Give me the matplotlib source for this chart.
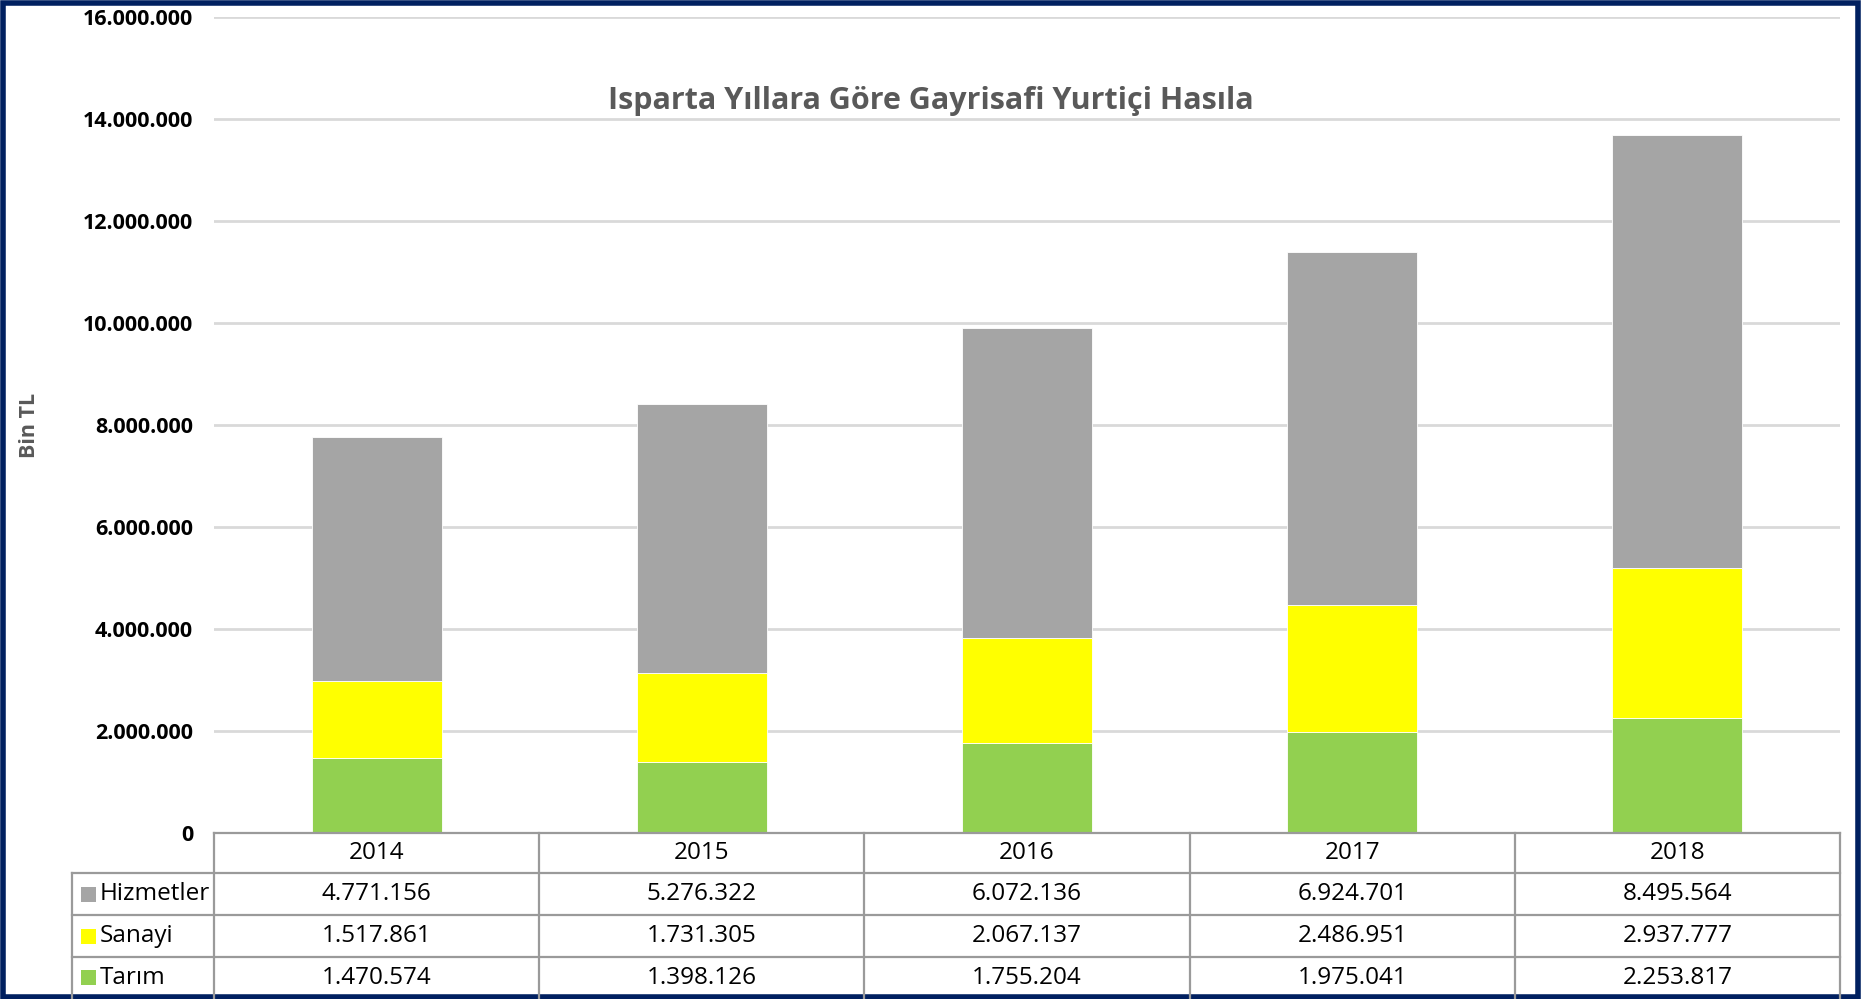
import matplotlib.pyplot as plt
from matplotlib.patches import Rectangle
from matplotlib.transforms import blended_transform_factory

plt.rcParams['font.family'] = ['Open Sans', 'DejaVu Sans']

yillar = ["2014", "2015", "2016", "2017", "2018"]
seriler = ["Hizmetler", "Sanayi", "Tarım"]
tarim = [1470574, 1398126, 1755204, 1975041, 2253817]
sanayi = [1517861, 1731305, 2067137, 2486951, 2937777]
hizmetler = [4771156, 5276322, 6072136, 6924701, 8495564]
renkler = {"Hizmetler": "#A5A5A5", "Sanayi": "#FFFF00", "Tarım": "#92D050"}
degerler = {"Hizmetler": hizmetler, "Sanayi": sanayi, "Tarım": tarim}


def tr_fmt(v):
    return f"{int(v):,}".replace(",", ".")


W, H = 1865, 999
fig = plt.figure(figsize=(W / 100, H / 100), dpi=100)
ax = fig.add_axes([214 / W, 1 - 833 / H, (1840 - 214) / W, (833 - 17) / H])

x = list(range(len(yillar)))
alt2 = [a + b for a, b in zip(tarim, sanayi)]
ax.bar(x, tarim, width=0.4, color=renkler["Tarım"], edgecolor="white", linewidth=0.6, zorder=3)
ax.bar(x, sanayi, width=0.4, bottom=tarim, color=renkler["Sanayi"], edgecolor="white", linewidth=0.6, zorder=3)
ax.bar(x, hizmetler, width=0.4, bottom=alt2, color=renkler["Hizmetler"], edgecolor="white", linewidth=0.6, zorder=3)

ax.set_xlim(-0.5, len(yillar) - 0.5)
ax.set_ylim(0, 16000000)
ax.set_yticks(range(0, 16000001, 2000000))
ax.set_yticklabels([tr_fmt(v) for v in range(0, 16000001, 2000000)], fontsize=15.5, fontweight="bold")
ax.tick_params(axis="y", length=0, pad=15)
ax.set_xticks([])
ax.grid(axis="y", color="#D9D9D9", linewidth=2, zorder=0)
for s in ax.spines.values():
    s.set_visible(False)

fig.text(30 / W, 1 - 425 / H, "Bin TL", rotation=90, fontsize=15.5, fontweight="bold",
         color="#595959", ha="center", va="center")
fig.text(931 / W, 1 - 101 / H, "Isparta Yıllara Göre Gayrisafi Yurtiçi Hasıla",
         fontsize=22, fontweight="bold", color="#595959", ha="center", va="center")

# veri tablosu
tr = blended_transform_factory(ax.transData, fig.transFigure)
lc = "#9A9A9A"
rows = [833, 873, 915, 957, 1005]
left_lbl = -0.5 - (214 - 72) / 325.2
fs = 17.5


def fy(p):
    return 1 - p / H


def hline(x0, x1, y):
    fig.add_artist(plt.Line2D([x0, x1], [fy(y), fy(y)], transform=tr, color=lc, linewidth=1.6))


def vline(xx, y0, y1):
    fig.add_artist(plt.Line2D([xx, xx], [fy(y0), fy(y1)], transform=tr, color=lc, linewidth=1.6))


hline(-0.5, len(yillar) - 0.5, rows[0])
for r in rows[1:4]:
    hline(left_lbl, len(yillar) - 0.5, r)
for i in range(len(yillar) + 1):
    vline(i - 0.5, rows[0], rows[-1])
vline(left_lbl, rows[1], rows[-1])

for i, yil in enumerate(yillar):
    fig.text(i, fy((rows[0] + rows[1]) / 2), yil, transform=tr, ha="center", va="center", fontsize=fs)

for j, ad in enumerate(seriler):
    yc = fy((rows[j + 1] + rows[j + 2]) / 2) if j < 2 else fy((rows[3] + 998) / 2)
    fig.add_artist(Rectangle((81 / W, yc - 7.5 / H), 15 / W, 15 / H, transform=fig.transFigure,
                             facecolor=renkler[ad], edgecolor="none"))
    fig.text(100 / W, yc, ad, ha="left", va="center", fontsize=fs)
    for i, v in enumerate(degerler[ad]):
        fig.text(i, yc, tr_fmt(v), transform=tr, ha="center", va="center", fontsize=fs)

# çerçeve
fig.add_artist(Rectangle((3 / W, 2.5 / H), (W - 9.5) / W, (H - 5) / H, transform=fig.transFigure,
                         fill=False, edgecolor="#002060", linewidth=4))

fig.savefig("out.png", dpi=100)
